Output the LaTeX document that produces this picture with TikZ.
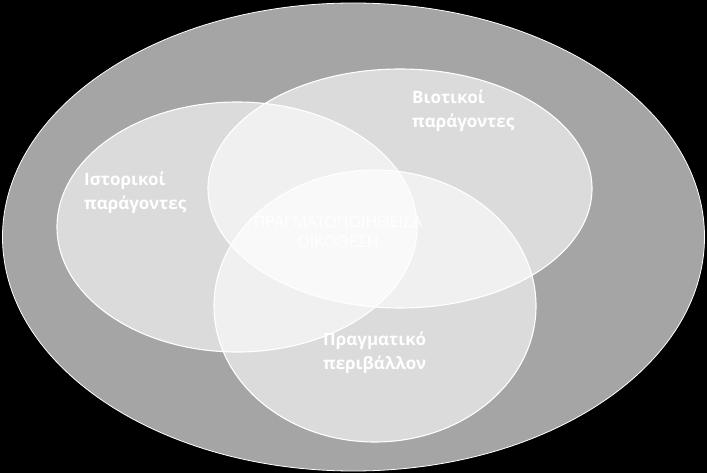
\documentclass[tikz,border=0pt]{standalone}
\usepackage{fontspec}
\setmainfont{Open Sans}
\usepackage{tikz}

\tikzset{
    ring/.style={draw=white, line width=1.1pt, fill=white, fill opacity=0.6},
    setlabel/.style={text=white, anchor=base west, align=left, inner sep=0pt,
        font=\fontsize{17}{24}\selectfont\bfseries}
}

\begin{document}
\begin{tikzpicture}[x=1pt, y=-1pt]

% Background
\fill[black] (0,0) rectangle (707,473);
\useasboundingbox (0,0) rectangle (707,473);

% Outer ellipse
\draw[draw=white, line width=0.8pt, fill={rgb,255:red,165;green,165;blue,165}]
    (353.5,237) ellipse [x radius=351pt, y radius=234pt];

% Three overlapping sets
\draw[ring] (237,227) ellipse [x radius=180pt, y radius=125pt];
\draw[ring] (400,188.5) ellipse [x radius=192pt, y radius=119.5pt];
\draw[ring] (375,306) ellipse [x radius=161pt, y radius=136pt];

% Labels
\node[setlabel] (hist) at (84,210) {Ιστορικοί\\παράγοντες};
\node[setlabel] (bio) at (412,128) {Βιοτικοί\\παράγοντες};
\node[setlabel] (env) at (323,369) {Πραγματικό\\περιβάλλον};

% Centre
\node[text=white, align=center, inner sep=0pt, font=\fontsize{16}{20}\selectfont]
    (centre) at (338,232) {ΠΡΑΓΜΑΤΟΠΟΙΗΘΕΙΣΑ\\ΟΙΚΟΘΕΣΗ};

\end{tikzpicture}
\end{document}
